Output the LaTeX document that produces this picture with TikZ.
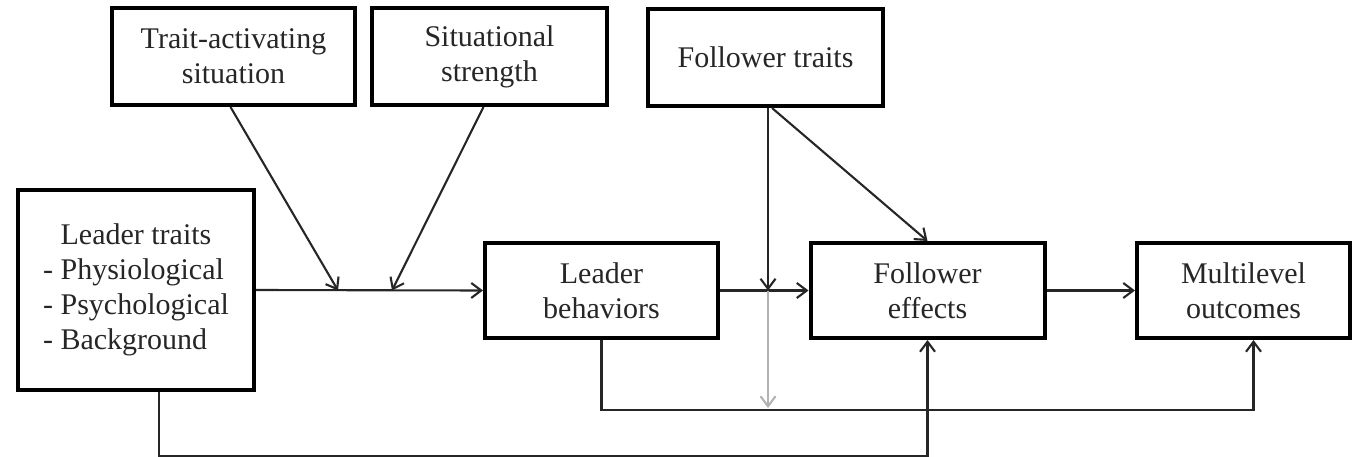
\documentclass[tikz,border=0pt]{standalone}
\usepackage{fontspec}
\setmainfont{Liberation Serif}
\usetikzlibrary{arrows.meta}
\begin{document}
\begin{tikzpicture}[x=1pt,y=-1pt,
  box/.style={draw=black, line width=4pt, rectangle, inner sep=0pt, align=center,
    font=\fontsize{30}{35}\selectfont, text=black!85},
  link/.style={draw=black!85, line width=2.1pt, -{Straight Barb[length=10pt,width=15pt]}},
  faint/.style={link, draw=black!30}]
\useasboundingbox (0,0) rectangle (1355,457);

% boxes
\node[box, minimum width=243, minimum height=97] (tas) at (233.5,56.5) {Trait-activating\\situation};
\node[box, minimum width=235, minimum height=97] (ss) at (489.5,56.5) {Situational\\strength};
\node[box, minimum width=235, minimum height=97] (ft) at (765.5,57.5) {Follower traits};
\node[box, minimum width=236, minimum height=200] (lt) at (136,290)
  {\begin{tabular}{@{}l@{}}\multicolumn{1}{@{}c@{}}{Leader traits}\\- Physiological\\- Psychological\\- Background\end{tabular}};
\node[box, minimum width=233, minimum height=95] (lb) at (601.5,290.5) {Leader\\behaviors};
\node[box, minimum width=234, minimum height=95] (fe) at (927.5,290.5) {Follower\\effects};
\node[box, minimum width=213, minimum height=95] (mo) at (1243.5,290.5) {Multilevel\\outcomes};

% junction points on connectors
\coordinate (ja) at (338,290.5);
\coordinate (jb) at (392,290.5);
\coordinate (fv) at (768,290.5);
\coordinate (fb) at (768,408);

% connectors
\draw[link] (lt.east) -- (lb.west);
\draw[link] ([xshift=-3]tas.south) -- (ja);
\draw[link] ([xshift=-6]ss.south) -- (jb);
\draw[link] (lb.east) -- (fe.west);
\draw[link] (fe.east) -- (mo.west);
\draw[link] ([xshift=2.5]ft.south) -- (fv);
\draw[faint] (fv) -- (fb);
\draw[link] ([xshift=6.5]ft.south) -- (fe.north);
\draw[link] (lb.south) -- ++(0,70) -| ([xshift=10]mo.south);
\draw[link] ([xshift=23]lt.south) -- ++(0,64) -| (fe.south);
\end{tikzpicture}
\end{document}
